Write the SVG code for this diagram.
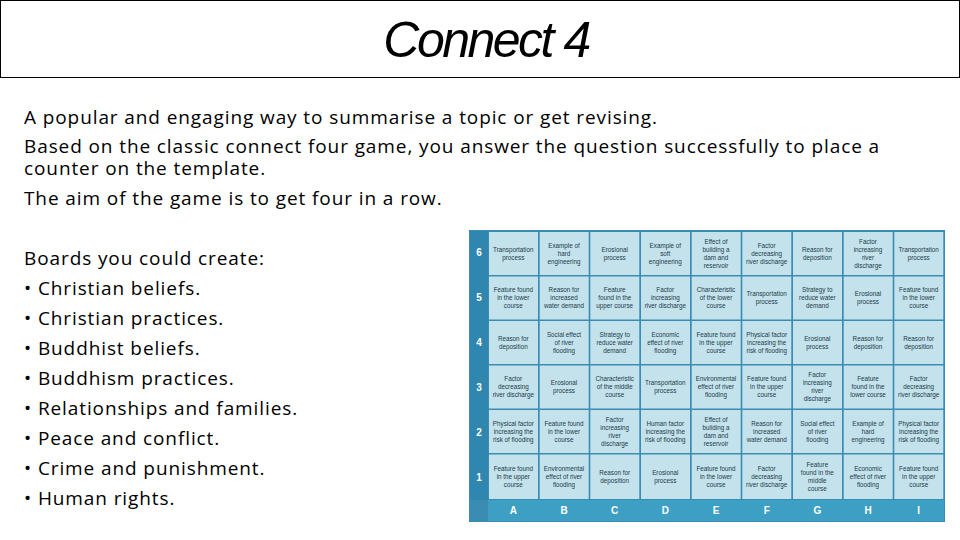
<svg xmlns="http://www.w3.org/2000/svg" width="960" height="540" viewBox="0 0 960 540">
<style>
.body{font-family:"Open Sans","Liberation Sans",sans-serif;font-size:19px;letter-spacing:0.9px;fill:#000}
.c{font-family:"Liberation Sans",Arial,sans-serif;font-size:6.3px;fill:#1d3a4a;text-anchor:middle}
.n{font-family:"Liberation Sans",Arial,sans-serif;font-size:10px;font-weight:bold;fill:#fff;text-anchor:middle}
.cell{fill:#c3e2ec}
</style>
<rect x="0.5" y="0.5" width="959" height="77" fill="#fff" stroke="#000"/>
<text x="486" y="57" text-anchor="middle" font-family="'Liberation Sans',sans-serif" font-style="italic" font-size="50" letter-spacing="-2.5">Connect 4</text>
<g class="body">
<text x="24" y="124">A popular and engaging way to summarise a topic or get revising.</text>
<text x="24" y="153">Based on the classic connect four game, you answer the question successfully to place a</text>
<text x="24" y="175">counter on the template.</text>
<text x="24" y="205">The aim of the game is to get four in a row.</text>
<text x="24" y="265">Boards you could create:</text>
<text x="24" y="295">• Christian beliefs.</text>
<text x="24" y="325">• Christian practices.</text>
<text x="24" y="355">• Buddhist beliefs.</text>
<text x="24" y="385">• Buddhism practices.</text>
<text x="24" y="415">• Relationships and families.</text>
<text x="24" y="445">• Peace and conflict.</text>
<text x="24" y="475">• Crime and punishment.</text>
<text x="24" y="505">• Human rights.</text>
</g>
<g id="board">
<rect x="469" y="230" width="476" height="292" fill="#3a8cb3"/>
<rect x="470" y="231" width="18" height="269" fill="#2f86ae"/>
<rect x="488" y="500" width="456" height="21" fill="#3d9fc3"/>
</g>
<g id="labels" class="n">
<text x="479" y="256">6</text><text x="479" y="301">5</text><text x="479" y="346">4</text><text x="479" y="391">3</text><text x="479" y="436">2</text><text x="479" y="481">1</text>
<text x="513.3" y="514">A</text><text x="564" y="514">B</text><text x="614.7" y="514">C</text><text x="665.3" y="514">D</text><text x="716" y="514">E</text><text x="766.7" y="514">F</text><text x="817.3" y="514">G</text><text x="868" y="514">H</text><text x="918.7" y="514">I</text>
</g>
<g id="connectors"/>
<g id="A6"><rect class="cell" x="489" y="232" width="49" height="43"/><text class="c" x="513.3" y="251.8">Transportation<tspan x="513.3" dy="8">process</tspan></text></g>
<g id="B6"><rect class="cell" x="539.7" y="232" width="49" height="43"/><text class="c" x="564" y="247.8">Example of<tspan x="564" dy="8">hard</tspan><tspan x="564" dy="8">engineering</tspan></text></g>
<g id="C6"><rect class="cell" x="590.3" y="232" width="49" height="43"/><text class="c" x="614.7" y="251.8">Erosional<tspan x="614.7" dy="8">process</tspan></text></g>
<g id="D6"><rect class="cell" x="641" y="232" width="49" height="43"/><text class="c" x="665.3" y="247.8">Example of<tspan x="665.3" dy="8">soft</tspan><tspan x="665.3" dy="8">engineering</tspan></text></g>
<g id="E6"><rect class="cell" x="691.7" y="232" width="49" height="43"/><text class="c" x="716" y="243.8">Effect of<tspan x="716" dy="8">building a</tspan><tspan x="716" dy="8">dam and</tspan><tspan x="716" dy="8">reservoir</tspan></text></g>
<g id="F6"><rect class="cell" x="742.3" y="232" width="49" height="43"/><text class="c" x="766.7" y="247.8">Factor<tspan x="766.7" dy="8">decreasing</tspan><tspan x="766.7" dy="8">river discharge</tspan></text></g>
<g id="G6"><rect class="cell" x="793" y="232" width="49" height="43"/><text class="c" x="817.3" y="251.8">Reason for<tspan x="817.3" dy="8">deposition</tspan></text></g>
<g id="H6"><rect class="cell" x="843.7" y="232" width="49" height="43"/><text class="c" x="868" y="243.8">Factor<tspan x="868" dy="8">increasing</tspan><tspan x="868" dy="8">river</tspan><tspan x="868" dy="8">discharge</tspan></text></g>
<g id="I6"><rect class="cell" x="894.3" y="232" width="49" height="43"/><text class="c" x="918.7" y="251.8">Transportation<tspan x="918.7" dy="8">process</tspan></text></g>
<g id="A5"><rect class="cell" x="489" y="276.5" width="49" height="43"/><text class="c" x="513.3" y="292.3">Feature found<tspan x="513.3" dy="8">in the lower</tspan><tspan x="513.3" dy="8">course</tspan></text></g>
<g id="B5"><rect class="cell" x="539.7" y="276.5" width="49" height="43"/><text class="c" x="564" y="292.3">Reason for<tspan x="564" dy="8">increased</tspan><tspan x="564" dy="8">water demand</tspan></text></g>
<g id="C5"><rect class="cell" x="590.3" y="276.5" width="49" height="43"/><text class="c" x="614.7" y="292.3">Feature<tspan x="614.7" dy="8">found in the</tspan><tspan x="614.7" dy="8">upper course</tspan></text></g>
<g id="D5"><rect class="cell" x="641" y="276.5" width="49" height="43"/><text class="c" x="665.3" y="292.3">Factor<tspan x="665.3" dy="8">increasing</tspan><tspan x="665.3" dy="8">river discharge</tspan></text></g>
<g id="E5"><rect class="cell" x="691.7" y="276.5" width="49" height="43"/><text class="c" x="716" y="292.3">Characteristic<tspan x="716" dy="8">of the lower</tspan><tspan x="716" dy="8">course</tspan></text></g>
<g id="F5"><rect class="cell" x="742.3" y="276.5" width="49" height="43"/><text class="c" x="766.7" y="296.3">Transportation<tspan x="766.7" dy="8">process</tspan></text></g>
<g id="G5"><rect class="cell" x="793" y="276.5" width="49" height="43"/><text class="c" x="817.3" y="292.3">Strategy to<tspan x="817.3" dy="8">reduce water</tspan><tspan x="817.3" dy="8">demand</tspan></text></g>
<g id="H5"><rect class="cell" x="843.7" y="276.5" width="49" height="43"/><text class="c" x="868" y="296.3">Erosional<tspan x="868" dy="8">process</tspan></text></g>
<g id="I5"><rect class="cell" x="894.3" y="276.5" width="49" height="43"/><text class="c" x="918.7" y="292.3">Feature found<tspan x="918.7" dy="8">in the lower</tspan><tspan x="918.7" dy="8">course</tspan></text></g>
<g id="A4"><rect class="cell" x="489" y="321" width="49" height="43"/><text class="c" x="513.3" y="340.8">Reason for<tspan x="513.3" dy="8">deposition</tspan></text></g>
<g id="B4"><rect class="cell" x="539.7" y="321" width="49" height="43"/><text class="c" x="564" y="336.8">Social effect<tspan x="564" dy="8">of river</tspan><tspan x="564" dy="8">flooding</tspan></text></g>
<g id="C4"><rect class="cell" x="590.3" y="321" width="49" height="43"/><text class="c" x="614.7" y="336.8">Strategy to<tspan x="614.7" dy="8">reduce water</tspan><tspan x="614.7" dy="8">demand</tspan></text></g>
<g id="D4"><rect class="cell" x="641" y="321" width="49" height="43"/><text class="c" x="665.3" y="336.8">Economic<tspan x="665.3" dy="8">effect of river</tspan><tspan x="665.3" dy="8">flooding</tspan></text></g>
<g id="E4"><rect class="cell" x="691.7" y="321" width="49" height="43"/><text class="c" x="716" y="336.8">Feature found<tspan x="716" dy="8">in the upper</tspan><tspan x="716" dy="8">course</tspan></text></g>
<g id="F4"><rect class="cell" x="742.3" y="321" width="49" height="43"/><text class="c" x="766.7" y="336.8">Physical factor<tspan x="766.7" dy="8">increasing the</tspan><tspan x="766.7" dy="8">risk of flooding</tspan></text></g>
<g id="G4"><rect class="cell" x="793" y="321" width="49" height="43"/><text class="c" x="817.3" y="340.8">Erosional<tspan x="817.3" dy="8">process</tspan></text></g>
<g id="H4"><rect class="cell" x="843.7" y="321" width="49" height="43"/><text class="c" x="868" y="340.8">Reason for<tspan x="868" dy="8">deposition</tspan></text></g>
<g id="I4"><rect class="cell" x="894.3" y="321" width="49" height="43"/><text class="c" x="918.7" y="340.8">Reason for<tspan x="918.7" dy="8">deposition</tspan></text></g>
<g id="A3"><rect class="cell" x="489" y="365.5" width="49" height="43"/><text class="c" x="513.3" y="381.3">Factor<tspan x="513.3" dy="8">decreasing</tspan><tspan x="513.3" dy="8">river discharge</tspan></text></g>
<g id="B3"><rect class="cell" x="539.7" y="365.5" width="49" height="43"/><text class="c" x="564" y="385.3">Erosional<tspan x="564" dy="8">process</tspan></text></g>
<g id="C3"><rect class="cell" x="590.3" y="365.5" width="49" height="43"/><text class="c" x="614.7" y="381.3">Characteristic<tspan x="614.7" dy="8">of the middle</tspan><tspan x="614.7" dy="8">course</tspan></text></g>
<g id="D3"><rect class="cell" x="641" y="365.5" width="49" height="43"/><text class="c" x="665.3" y="385.3">Transportation<tspan x="665.3" dy="8">process</tspan></text></g>
<g id="E3"><rect class="cell" x="691.7" y="365.5" width="49" height="43"/><text class="c" x="716" y="381.3">Environmental<tspan x="716" dy="8">effect of river</tspan><tspan x="716" dy="8">flooding</tspan></text></g>
<g id="F3"><rect class="cell" x="742.3" y="365.5" width="49" height="43"/><text class="c" x="766.7" y="381.3">Feature found<tspan x="766.7" dy="8">in the upper</tspan><tspan x="766.7" dy="8">course</tspan></text></g>
<g id="G3"><rect class="cell" x="793" y="365.5" width="49" height="43"/><text class="c" x="817.3" y="377.3">Factor<tspan x="817.3" dy="8">increasing</tspan><tspan x="817.3" dy="8">river</tspan><tspan x="817.3" dy="8">discharge</tspan></text></g>
<g id="H3"><rect class="cell" x="843.7" y="365.5" width="49" height="43"/><text class="c" x="868" y="381.3">Feature<tspan x="868" dy="8">found in the</tspan><tspan x="868" dy="8">lower course</tspan></text></g>
<g id="I3"><rect class="cell" x="894.3" y="365.5" width="49" height="43"/><text class="c" x="918.7" y="381.3">Factor<tspan x="918.7" dy="8">decreasing</tspan><tspan x="918.7" dy="8">river discharge</tspan></text></g>
<g id="A2"><rect class="cell" x="489" y="410" width="49" height="43"/><text class="c" x="513.3" y="425.8">Physical factor<tspan x="513.3" dy="8">increasing the</tspan><tspan x="513.3" dy="8">risk of flooding</tspan></text></g>
<g id="B2"><rect class="cell" x="539.7" y="410" width="49" height="43"/><text class="c" x="564" y="425.8">Feature found<tspan x="564" dy="8">in the lower</tspan><tspan x="564" dy="8">course</tspan></text></g>
<g id="C2"><rect class="cell" x="590.3" y="410" width="49" height="43"/><text class="c" x="614.7" y="421.8">Factor<tspan x="614.7" dy="8">increasing</tspan><tspan x="614.7" dy="8">river</tspan><tspan x="614.7" dy="8">discharge</tspan></text></g>
<g id="D2"><rect class="cell" x="641" y="410" width="49" height="43"/><text class="c" x="665.3" y="425.8">Human factor<tspan x="665.3" dy="8">increasing the</tspan><tspan x="665.3" dy="8">risk of flooding</tspan></text></g>
<g id="E2"><rect class="cell" x="691.7" y="410" width="49" height="43"/><text class="c" x="716" y="421.8">Effect of<tspan x="716" dy="8">building a</tspan><tspan x="716" dy="8">dam and</tspan><tspan x="716" dy="8">reservoir</tspan></text></g>
<g id="F2"><rect class="cell" x="742.3" y="410" width="49" height="43"/><text class="c" x="766.7" y="425.8">Reason for<tspan x="766.7" dy="8">increased</tspan><tspan x="766.7" dy="8">water demand</tspan></text></g>
<g id="G2"><rect class="cell" x="793" y="410" width="49" height="43"/><text class="c" x="817.3" y="425.8">Social effect<tspan x="817.3" dy="8">of river</tspan><tspan x="817.3" dy="8">flooding</tspan></text></g>
<g id="H2"><rect class="cell" x="843.7" y="410" width="49" height="43"/><text class="c" x="868" y="425.8">Example of<tspan x="868" dy="8">hard</tspan><tspan x="868" dy="8">engineering</tspan></text></g>
<g id="I2"><rect class="cell" x="894.3" y="410" width="49" height="43"/><text class="c" x="918.7" y="425.8">Physical factor<tspan x="918.7" dy="8">increasing the</tspan><tspan x="918.7" dy="8">risk of flooding</tspan></text></g>
<g id="A1"><rect class="cell" x="489" y="454.5" width="49" height="44.5"/><text class="c" x="513.3" y="470.8">Feature found<tspan x="513.3" dy="8">in the upper</tspan><tspan x="513.3" dy="8">course</tspan></text></g>
<g id="B1"><rect class="cell" x="539.7" y="454.5" width="49" height="44.5"/><text class="c" x="564" y="470.8">Environmental<tspan x="564" dy="8">effect of river</tspan><tspan x="564" dy="8">flooding</tspan></text></g>
<g id="C1"><rect class="cell" x="590.3" y="454.5" width="49" height="44.5"/><text class="c" x="614.7" y="474.8">Reason for<tspan x="614.7" dy="8">deposition</tspan></text></g>
<g id="D1"><rect class="cell" x="641" y="454.5" width="49" height="44.5"/><text class="c" x="665.3" y="474.8">Erosional<tspan x="665.3" dy="8">process</tspan></text></g>
<g id="E1"><rect class="cell" x="691.7" y="454.5" width="49" height="44.5"/><text class="c" x="716" y="470.8">Feature found<tspan x="716" dy="8">in the lower</tspan><tspan x="716" dy="8">course</tspan></text></g>
<g id="F1"><rect class="cell" x="742.3" y="454.5" width="49" height="44.5"/><text class="c" x="766.7" y="470.8">Factor<tspan x="766.7" dy="8">decreasing</tspan><tspan x="766.7" dy="8">river discharge</tspan></text></g>
<g id="G1"><rect class="cell" x="793" y="454.5" width="49" height="44.5"/><text class="c" x="817.3" y="466.8">Feature<tspan x="817.3" dy="8">found in the</tspan><tspan x="817.3" dy="8">middle</tspan><tspan x="817.3" dy="8">course</tspan></text></g>
<g id="H1"><rect class="cell" x="843.7" y="454.5" width="49" height="44.5"/><text class="c" x="868" y="470.8">Economic<tspan x="868" dy="8">effect of river</tspan><tspan x="868" dy="8">flooding</tspan></text></g>
<g id="I1"><rect class="cell" x="894.3" y="454.5" width="49" height="44.5"/><text class="c" x="918.7" y="470.8">Feature found<tspan x="918.7" dy="8">in the upper</tspan><tspan x="918.7" dy="8">course</tspan></text></g>
</svg>
